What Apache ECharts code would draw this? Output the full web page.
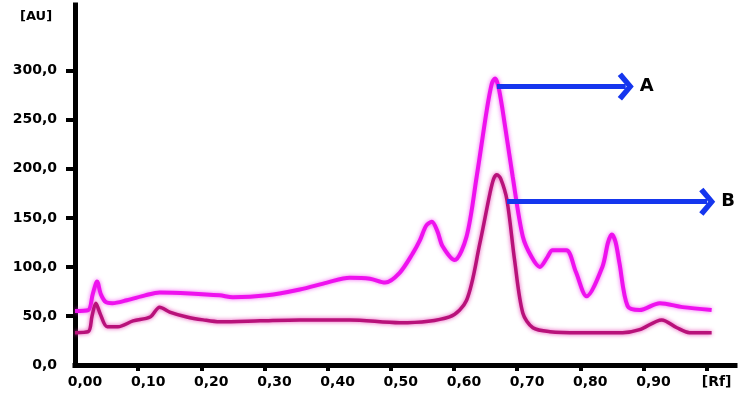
<!DOCTYPE html>
<html>
<head>
<meta charset="utf-8">
<script src="https://cdn.jsdelivr.net/npm/echarts@6/dist/echarts.min.js"></script>
<style>
html,body{margin:0;padding:0;background:#fff;}
#chart{width:741px;height:402px;}
</style>
</head>
<body>
<div id="chart"></div>
<script>
// Rf positions and intensities (AU)
const rfA = [0.000,0.021,0.028,0.035,0.041,0.049,0.059,0.082,0.111,0.134,0.182,0.229,0.250,0.304,0.356,0.399,0.435,0.467,0.491,0.514,0.535,0.546,0.556,0.565,0.574,0.582,0.601,0.620,0.636,0.652,0.660,0.665,0.670,0.677,0.693,0.709,0.723,0.736,0.748,0.756,0.778,0.793,0.810,0.835,0.844,0.850,0.856,0.862,0.875,0.894,0.926,0.962,1.008];
const auA = [55,56,72,85,72,64,63,66,71,74,73,71,69,71,77,84,89,88,84,94,114,127,142,146,136,121,107,131,192,260,287,292,285,260,192,131,110,100,110,117,117,95,70,100,125,133,125,104,60,56,63,59,56];
const rfB = [0.000,0.021,0.027,0.033,0.040,0.051,0.068,0.092,0.119,0.134,0.150,0.177,0.203,0.229,0.293,0.356,0.435,0.514,0.593,0.620,0.641,0.657,0.663,0.668,0.674,0.684,0.696,0.709,0.725,0.752,0.799,0.867,0.894,0.929,0.953,0.973,1.008];
const auB = [33,34,50,63,52,39,39,45,49,59,54,49,46,44,45,46,46,43,49,66,124,175,190,194,190,168,107,53,38,34,33,33,36,46,38,33,33];
const xTicks = [0,0.1,0.2,0.3,0.4,0.5,0.6,0.7,0.8,0.9,1.0];
const yTicks = [0,50,100,150,200,250,300];
const arrowA = {from:[0.668,284], to:[0.872,284], label:'A'};
const arrowB = {from:[0.684,166.5], to:[1.001,166.5], label:'B'};

const FONT = 'DejaVu Sans';
const chevron = 'path://M0,11 L14,0 L28,11 L24.5,15 L14,6.5 L3.5,15 Z';

function pairs(xs, ys){ return xs.map((x,i)=>[x, ys[i]]); }
function arrowLine(a){
  return {
    silent: true,
    symbol: ['none', chevron],
    symbolSize: [28, 16],
    lineStyle: {color:'#1536ee', width:5, type:'solid'},
    label: {show:true, position:'end', formatter:a.label, color:'#000', fontFamily:FONT, fontWeight:'bold', fontSize:18, distance:14},
    emphasis: {disabled:true},
    data: [[{coord:a.from},{coord:a.to}]]
  };
}

const chart = echarts.init(document.getElementById('chart'));
chart.setOption({
  animation: false,
  backgroundColor: '#fff',
  grid: {left:75, right:6, top:5, bottom:37, containLabel:false},
  xAxis: {
    type:'value', min:0, max:1.045,
    axisLine:{show:true, onZero:false, lineStyle:{color:'#000', width:5, cap:'square'}},
    axisTick:{show:true, length:6, lineStyle:{color:'#000', width:4}, customValues: xTicks.slice(1)},
    axisLabel:{customValues: xTicks, margin:10, padding:[0,0,0,20], color:'#000', fontFamily:FONT, fontWeight:'bold', fontSize:14,
      formatter: v => v > 0.95 ? '[Rf]' : v.toFixed(2).replace('.',',')},
    splitLine:{show:false}
  },
  yAxis: {
    type:'value', min:0, max:367,
    axisLine:{show:true, lineStyle:{color:'#000', width:5, cap:'square'}},
    axisTick:{show:true, length:9, lineStyle:{color:'#000', width:4}, customValues: yTicks.slice(1)},
    axisLabel:{customValues: yTicks, margin:18, color:'#000', fontFamily:FONT, fontWeight:'bold', fontSize:14,
      formatter: v => v.toFixed(1).replace('.',',')},
    splitLine:{show:false}
  },
  graphic: [{type:'text', left:20, top:10, style:{text:'[AU]', fill:'#000', font:'bold 13px "DejaVu Sans"'}}],
  series: [
    {type:'line', name:'A', data:pairs(rfA, auA), showSymbol:false, smooth:0.3,
     lineStyle:{color:'#ee11ee', width:4, shadowBlur:4, shadowColor:'rgba(240,60,240,0.8)'},
     markLine: arrowLine(arrowA)},
    {type:'line', name:'B', data:pairs(rfB, auB), showSymbol:false, smooth:0.3,
     lineStyle:{color:'#b8127a', width:3.5, shadowBlur:4, shadowColor:'rgba(230,60,180,0.9)'},
     markLine: arrowLine(arrowB)}
  ]
});
</script>
</body>
</html>
